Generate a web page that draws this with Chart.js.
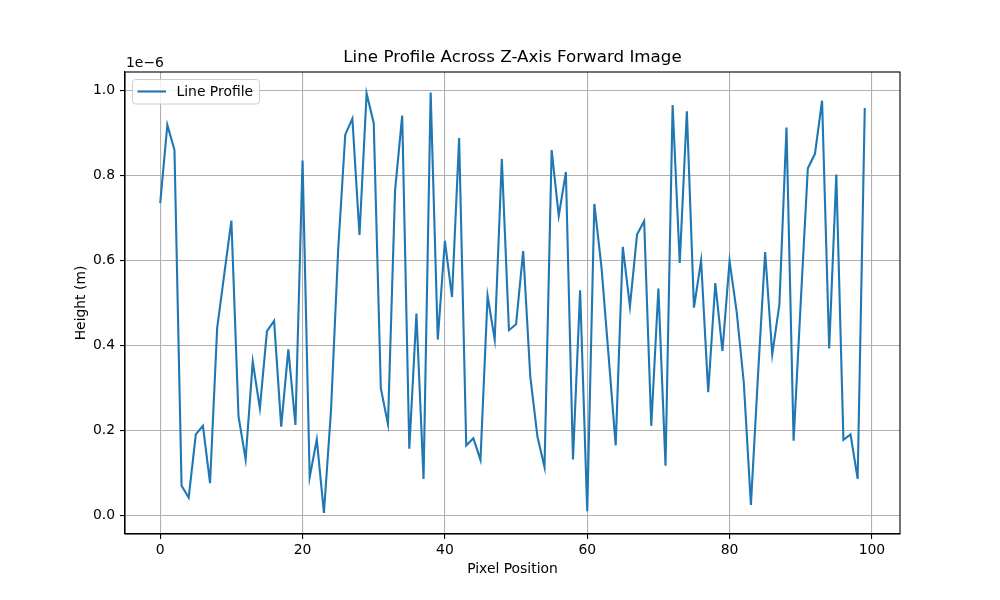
<!DOCTYPE html>
<html>
<head>
<meta charset="utf-8">
<script src="https://cdn.jsdelivr.net/npm/chart.js@4.4.0/dist/chart.umd.min.js"></script>
<style>
html,body{margin:0;padding:0;background:#fff;}
#wrap{width:1000px;height:600px;}
</style>
</head>
<body>
<div id="wrap"><canvas id="c" width="1000" height="600"></canvas></div>
<script>
// Pixel positions 0..99
const pixelPositions = Array.from({length: 100}, (_, i) => i);
// Heights in units of 1e-6 m
const heightValues = [
  0.734, 0.918, 0.859, 0.069, 0.041, 0.190, 0.210, 0.075, 0.440, 0.567,
  0.693, 0.232, 0.131, 0.361, 0.251, 0.433, 0.457, 0.208, 0.390, 0.212,
  0.834, 0.089, 0.178, 0.005, 0.247, 0.623, 0.895, 0.933, 0.659, 0.992,
  0.922, 0.298, 0.214, 0.764, 0.940, 0.156, 0.474, 0.085, 0.994, 0.413,
  0.645, 0.513, 0.887, 0.164, 0.181, 0.130, 0.516, 0.413, 0.838, 0.435,
  0.449, 0.621, 0.326, 0.185, 0.113, 0.859, 0.704, 0.807, 0.131, 0.529,
  0.009, 0.732, 0.584, 0.375, 0.164, 0.631, 0.491, 0.660, 0.692, 0.210,
  0.533, 0.116, 0.965, 0.593, 0.950, 0.488, 0.599, 0.289, 0.546, 0.386,
  0.598, 0.478, 0.312, 0.024, 0.330, 0.619, 0.378, 0.495, 0.912, 0.175,
  0.500, 0.816, 0.850, 0.975, 0.392, 0.801, 0.177, 0.190, 0.085, 0.958
];
const xTicks = [0, 20, 40, 60, 80, 100];
const yTicks = [0.0, 0.2, 0.4, 0.6, 0.8, 1.0];
const titleText = 'Line Profile Across Z-Axis Forward Image';
const xLabel = 'Pixel Position';
const yLabel = 'Height (m)';
const offsetText = '1e\u22126';
const seriesName = 'Line Profile';

const FONT = '"DejaVu Sans", sans-serif';
const BLUE = '#1f77b4';

const overlay = {
  id: 'overlay',
  afterDraw(chart) {
    const ctx = chart.ctx;
    const a = chart.chartArea;
    ctx.save();
    // spines
    ctx.strokeStyle = '#000';
    ctx.lineWidth = 1.1;
    ctx.strokeRect(a.left, a.top, a.right - a.left, a.bottom - a.top);
    // title
    ctx.fillStyle = '#000';
    ctx.font = '16.7px ' + FONT;
    ctx.textAlign = 'center';
    ctx.textBaseline = 'middle';
    ctx.fillText(titleText, (a.left + a.right) / 2, 58);
    // axis labels
    ctx.font = '13.9px ' + FONT;
    ctx.fillText(xLabel, (a.left + a.right) / 2, 569);
    ctx.save();
    ctx.translate(81, (a.top + a.bottom) / 2);
    ctx.rotate(-Math.PI / 2);
    ctx.fillText(yLabel, 0, 0);
    ctx.restore();
    // offset text
    ctx.textAlign = 'left';
    ctx.fillText(offsetText, a.left + 1, 63.5);
    // legend
    const lx = 132.5, ly = 79.5, lw = 127, lh = 24.5, r = 3;
    ctx.beginPath();
    ctx.moveTo(lx + r, ly);
    ctx.lineTo(lx + lw - r, ly);
    ctx.quadraticCurveTo(lx + lw, ly, lx + lw, ly + r);
    ctx.lineTo(lx + lw, ly + lh - r);
    ctx.quadraticCurveTo(lx + lw, ly + lh, lx + lw - r, ly + lh);
    ctx.lineTo(lx + r, ly + lh);
    ctx.quadraticCurveTo(lx, ly + lh, lx, ly + lh - r);
    ctx.lineTo(lx, ly + r);
    ctx.quadraticCurveTo(lx, ly, lx + r, ly);
    ctx.closePath();
    ctx.fillStyle = 'rgba(255,255,255,0.8)';
    ctx.fill();
    ctx.strokeStyle = '#cccccc';
    ctx.lineWidth = 1;
    ctx.stroke();
    ctx.strokeStyle = BLUE;
    ctx.lineWidth = 2.1;
    ctx.beginPath();
    ctx.moveTo(137.5, 91.5);
    ctx.lineTo(166, 91.5);
    ctx.stroke();
    ctx.fillStyle = '#000';
    ctx.textBaseline = 'middle';
    ctx.fillText(seriesName, 176.5, 92);
    ctx.restore();
  }
};

new Chart(document.getElementById('c'), {
  type: 'line',
  data: {
    datasets: [{
      label: seriesName,
      data: pixelPositions.map((x, i) => ({x: x, y: heightValues[i]})),
      borderColor: BLUE,
      borderWidth: 2.1,
      pointRadius: 0,
      tension: 0,
      fill: false
    }]
  },
  options: {
    responsive: false,
    animation: false,
    devicePixelRatio: 1,
    layout: {padding: {left: 0, right: 100, top: 72, bottom: 0}},
    plugins: {legend: {display: false}, title: {display: false}, tooltip: {enabled: false}},
    scales: {
      x: {
        type: 'linear',
        min: -4.95,
        max: 103.95,
        afterBuildTicks: s => { s.ticks = xTicks.map(v => ({value: v})); },
        afterFit: s => { s.height = 66; },
        grid: {color: '#b0b0b0', lineWidth: 1.1, tickLength: 5, tickColor: '#000', drawTicks: true},
        border: {display: true, color: '#000', width: 1.1},
        ticks: {color: '#000', font: {family: FONT, size: 13.9}, padding: 3, maxRotation: 0,
                callback: v => String(v)}
      },
      y: {
        type: 'linear',
        min: -0.0445,
        max: 1.0425,
        afterBuildTicks: s => { s.ticks = yTicks.map(v => ({value: v})); },
        afterFit: s => { s.width = 125; },
        grid: {color: '#b0b0b0', lineWidth: 1.1, tickLength: 5, tickColor: '#000', drawTicks: true},
        border: {display: true, color: '#000', width: 1.1},
        ticks: {color: '#000', font: {family: FONT, size: 13.9}, padding: 5,
                callback: v => Number(v).toFixed(1)}
      }
    }
  },
  plugins: [overlay]
});
</script>
</body>
</html>
